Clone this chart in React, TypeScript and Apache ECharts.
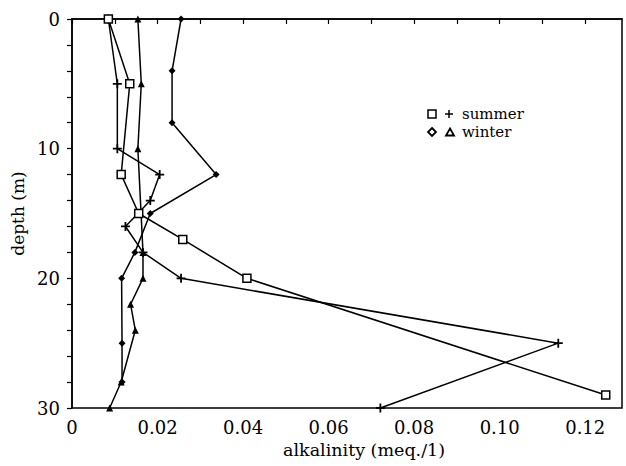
import React, { useEffect, useRef } from "react";
import * as echarts from "echarts";

// summer, squares
const summerSquareDepth = [0, 5, 12, 15, 17, 20, 29];
const summerSquareAlk = [0.0085, 0.0135, 0.0115, 0.0156, 0.0259, 0.0409, 0.1248];
// summer, pluses
const summerPlusDepth = [0, 5, 10, 12, 14, 16, 18, 20, 25, 30];
const summerPlusAlk = [0.0085, 0.0106, 0.0106, 0.0205, 0.0183, 0.0125, 0.0166, 0.0255, 0.1137, 0.0721];
// winter, diamonds
const winterDiamondDepth = [0, 4, 8, 12, 15, 18, 20, 25, 28];
const winterDiamondAlk = [0.0255, 0.0234, 0.0234, 0.0337, 0.0183, 0.0147, 0.0116, 0.0117, 0.0117];
// winter, triangles
const winterTriangleDepth = [0, 5, 10, 18, 20, 22, 24, 28, 30];
const winterTriangleAlk = [0.0154, 0.0162, 0.0154, 0.0166, 0.0166, 0.0137, 0.0148, 0.0115, 0.0088];

const xLabelValues = [0, 0.02, 0.04, 0.06, 0.08, 0.1, 0.12];
const yLabelValues = [0, 10, 20, 30];

const FONT = "DejaVu Serif";
const PLUS = "path://M4,0H6V4H10V6H6V10H4V6H0V4H4Z";

const pairs = (xs: number[], ys: number[]) => xs.map((x, i) => [x, ys[i]]);

export default function App() {
  const ref = useRef<HTMLDivElement>(null);
  useEffect(() => {
    if (!ref.current) return;
    const chart = echarts.init(ref.current, undefined, { renderer: "svg" });
    const lineStyle = { color: "#000", width: 1.5 };
    chart.setOption({
      animation: false,
      backgroundColor: "#fff",
      grid: {
        left: 72,
        right: 4,
        top: 19,
        bottom: 58,
        show: true,
        borderColor: "#000",
        borderWidth: 1.5,
        backgroundColor: "transparent",
      },
      xAxis: {
        type: "value",
        min: 0,
        max: 0.1286,
        interval: 0.01,
        name: "alkalinity (meq./1)",
        nameLocation: "middle",
        nameGap: 31,
        nameTextStyle: { fontFamily: FONT, fontSize: 17.5, color: "#000", padding: [0, 0, 0, 34] },
        axisLine: { show: true, lineStyle: { color: "#000", width: 1.5 } },
        axisTick: { show: true, inside: false, length: 5, lineStyle: { color: "#000", width: 1.2 } },
        splitLine: { show: false },
        axisLabel: {
          fontFamily: FONT,
          fontSize: 18,
          color: "#000",
          margin: 10,
          showMaxLabel: false,
          formatter: (v: number) => {
            const hit = xLabelValues.find((t) => Math.abs(t - v) < 1e-6);
            if (hit === undefined) return "";
            return hit === 0 ? "0" : hit.toFixed(2);
          },
        },
      },
      yAxis: {
        type: "value",
        inverse: true,
        min: 0,
        max: 30,
        interval: 2,
        name: "depth (m)",
        nameLocation: "middle",
        nameGap: 44,
        nameTextStyle: { fontFamily: FONT, fontSize: 17, color: "#000" },
        axisLine: { show: true, lineStyle: { color: "#000", width: 1.5 } },
        axisTick: { show: true, inside: false, length: 5, lineStyle: { color: "#000", width: 1.2 } },
        splitLine: { show: false },
        axisLabel: {
          fontFamily: FONT,
          fontSize: 18,
          color: "#000",
          margin: 12,
          formatter: (v: number) => (yLabelValues.includes(v) ? String(v) : ""),
        },
      },
      series: [
        {
          type: "line",
          name: "summer □",
          data: pairs(summerSquareAlk, summerSquareDepth),
          symbol: "rect",
          symbolSize: 8,
          showAllSymbol: true,
          lineStyle,
          itemStyle: { color: "#fff", borderColor: "#000", borderWidth: 1.5 },
          z: 3,
        },
        {
          type: "line",
          name: "summer +",
          data: pairs(summerPlusAlk, summerPlusDepth),
          symbol: PLUS,
          symbolSize: 9,
          showAllSymbol: true,
          lineStyle,
          itemStyle: { color: "#000" },
          z: 2,
        },
        {
          type: "line",
          name: "winter ◇",
          data: pairs(winterDiamondAlk, winterDiamondDepth),
          symbol: "diamond",
          symbolSize: 7,
          showAllSymbol: true,
          lineStyle,
          itemStyle: { color: "#000" },
          z: 2,
        },
        {
          type: "line",
          name: "winter △",
          data: pairs(winterTriangleAlk, winterTriangleDepth),
          symbol: "triangle",
          symbolSize: 7,
          showAllSymbol: true,
          lineStyle,
          itemStyle: { color: "#000" },
          z: 2,
        },
      ],
      graphic: [
        { type: "rect", shape: { x: 428, y: 110, width: 8, height: 8 }, style: { fill: "#fff", stroke: "#000", lineWidth: 1.5 } },
        { type: "line", shape: { x1: 445, y1: 114, x2: 453, y2: 114 }, style: { stroke: "#000", lineWidth: 1.5 } },
        { type: "line", shape: { x1: 449, y1: 110, x2: 449, y2: 118 }, style: { stroke: "#000", lineWidth: 1.5 } },
        { type: "text", left: 462, top: 106.5, style: { text: "summer", fontFamily: FONT, fontSize: 15, lineHeight: 15, fill: "#000" } },
        { type: "polygon", shape: { points: [[432, 128], [436, 132], [432, 136], [428, 132]] }, style: { fill: "#fff", stroke: "#000", lineWidth: 1.8 } },
        { type: "polygon", shape: { points: [[450, 128.5], [454, 135.5], [446, 135.5]] }, style: { fill: "#fff", stroke: "#000", lineWidth: 1.8 } },
        { type: "text", left: 462, top: 124.5, style: { text: "winter", fontFamily: FONT, fontSize: 15, lineHeight: 15, fill: "#000" } },
      ],
    });
    return () => chart.dispose();
  }, []);
  return <div ref={ref} style={{ position: "fixed", left: 0, top: 0, width: 626, height: 466 }} />;
}
